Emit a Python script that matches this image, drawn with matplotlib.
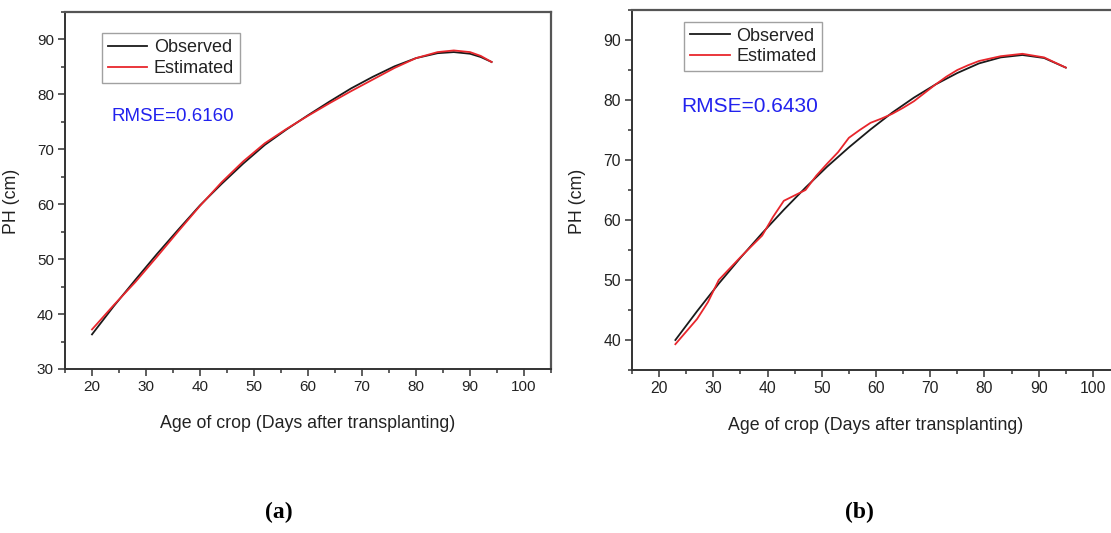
import matplotlib
matplotlib.use("Agg")
import matplotlib.pyplot as plt
from matplotlib.ticker import MultipleLocator

plt.rcParams['font.family'] = ['Liberation Sans', 'DejaVu Sans']

# ---- Panel (a) data ----
days_a = [20, 24, 28, 32, 36, 40, 44, 48, 52, 56, 60, 64, 68, 72, 76, 80, 84, 87, 90, 92, 94]
obs_a = [36.3, 41.4, 46.2, 50.9, 55.4, 59.8, 63.7, 67.4, 70.8, 73.6, 76.2, 78.7, 81.1, 83.2,
         85.1, 86.6, 87.5, 87.7, 87.4, 86.8, 85.9]
est_a = [37.2, 41.6, 45.8, 50.4, 55.1, 59.7, 64.0, 67.8, 71.1, 73.7, 76.1, 78.4, 80.6, 82.7,
         84.8, 86.6, 87.7, 88.0, 87.7, 87.0, 85.9]

# ---- Panel (b) data ----
days_b_obs = [23, 27, 31, 35, 39, 43, 47, 51, 55, 59, 63, 67, 71, 75, 79, 83, 87, 91, 95]
obs_b = [40.0, 44.8, 49.4, 53.7, 57.8, 61.7, 65.4, 68.9, 72.1, 75.1, 77.9, 80.4, 82.6, 84.5,
         86.1, 87.1, 87.5, 87.0, 85.4]
days_b_est = [23, 27, 29, 31, 33, 35, 37, 39, 41, 43, 45, 47, 49, 51, 53, 55, 57, 59, 61, 63,
              65, 67, 69, 71, 73, 75, 77, 79, 83, 87, 91, 95]
est_b = [39.3, 43.5, 46.3, 50.0, 51.9, 53.8, 55.6, 57.4, 60.5, 63.2, 64.1, 65.0, 67.4, 69.4,
         71.3, 73.7, 75.0, 76.2, 76.9, 77.7, 78.7, 79.8, 81.2, 82.6, 83.9, 85.0, 85.8, 86.5,
         87.3, 87.7, 87.1, 85.4]

rmse_a = "RMSE=0.6160"
rmse_b = "RMSE=0.6430"
xlabel = "Age of crop (Days after transplanting)"
ylabel = "PH (cm)"

W, H = 1111, 533
fig = plt.figure(figsize=(W / 100, H / 100), dpi=100)

def px_axes(left, right, top, bottom):
    return fig.add_axes([left / W, (H - bottom) / H, (right - left) / W, (bottom - top) / H])

ax_a = px_axes(65, 551, 12, 369)
ax_b = px_axes(632, 1120, 10, 370)

OBS_C = '#1a1a1a'
EST_C = '#e8262c'
TXT_C = '#222222'

def style(ax, ylim, ymajor, rmse_text, rmse_pos, leg_pos, rfs, tfs):
    ax.set_xlim(15, 105)
    ax.set_ylim(*ylim)
    ax.xaxis.set_major_locator(MultipleLocator(10))
    ax.xaxis.set_minor_locator(MultipleLocator(5))
    ax.yaxis.set_major_locator(MultipleLocator(10))
    ax.yaxis.set_minor_locator(MultipleLocator(5))
    ax.set_xticks([20, 30, 40, 50, 60, 70, 80, 90, 100])
    ax.set_yticks(ymajor)
    ax.tick_params(which='major', direction='out', length=5, width=1.1, colors='#333333',
                   labelsize=tfs, labelcolor=TXT_C, pad=3)
    ax.tick_params(which='minor', direction='out', length=3, width=1.1, colors='#333333')
    ax.tick_params(top=False, right=False, which='both')
    for s in ['left', 'bottom']:
        ax.spines[s].set_linewidth(1.4)
        ax.spines[s].set_color('#333333')
    for s in ['top', 'right']:
        ax.spines[s].set_linewidth(1.6)
        ax.spines[s].set_color('#555555')
    ax.set_xlabel(xlabel, fontsize=12.8, color=TXT_C)
    ax.set_ylabel(ylabel, fontsize=12.8, color=TXT_C)
    leg = ax.legend(loc='upper left', bbox_to_anchor=leg_pos, fontsize=13, frameon=True,
                    fancybox=False, edgecolor='#8a8a8a', handlelength=2.2,
                    handletextpad=0.35, borderpad=0.33, labelspacing=0.2,
                    borderaxespad=0.0)
    leg.get_frame().set_linewidth(1.0)
    for t in leg.get_texts():
        t.set_color(TXT_C)
    ax.text(rmse_pos[0], rmse_pos[1], rmse_text, transform=ax.transAxes, color='#2222ee',
            fontsize=rfs, ha='left', va='center')

ax_a.plot(days_a, obs_a, color=OBS_C, lw=1.3, label='Observed')
ax_a.plot(days_a, est_a, color=EST_C, lw=1.3, label='Estimated')
style(ax_a, (30, 95), [30, 40, 50, 60, 70, 80, 90], rmse_a,
      ((111.7 - 65) / 486, 1 - (116.5 - 12) / 357), ((101.7 - 65) / 486, 1 - (33.3 - 12) / 357),
      13.5, 11)
ax_a.xaxis.set_label_coords(0.499, -0.129)
ax_a.yaxis.set_label_coords(-0.0926, 0.469)

ax_b.plot(days_b_obs, obs_b, color=OBS_C, lw=1.3, label='Observed')
ax_b.plot(days_b_est, est_b, color=EST_C, lw=1.3, label='Estimated')
style(ax_b, (35, 95), [40, 50, 60, 70, 80, 90], rmse_b,
      ((681 - 632) / 488, 1 - (106 - 10) / 360), ((684 - 632) / 488, 1 - (21.7 - 10) / 360),
      15, 11.3)
ax_b.xaxis.set_label_coords(0.5, -0.130)
ax_b.yaxis.set_label_coords(-0.094, 0.4675)

fig.text(279 / W, 1 - 512.7 / H, "(a)", fontsize=17, fontweight='bold',
         family=['Liberation Serif', 'DejaVu Serif'], ha='center', va='center')
fig.text(859 / W, 1 - 512.7 / H, "(b)", fontsize=17, fontweight='bold',
         family=['Liberation Serif', 'DejaVu Serif'], ha='center', va='center')

fig.savefig("out.png", dpi=100)
